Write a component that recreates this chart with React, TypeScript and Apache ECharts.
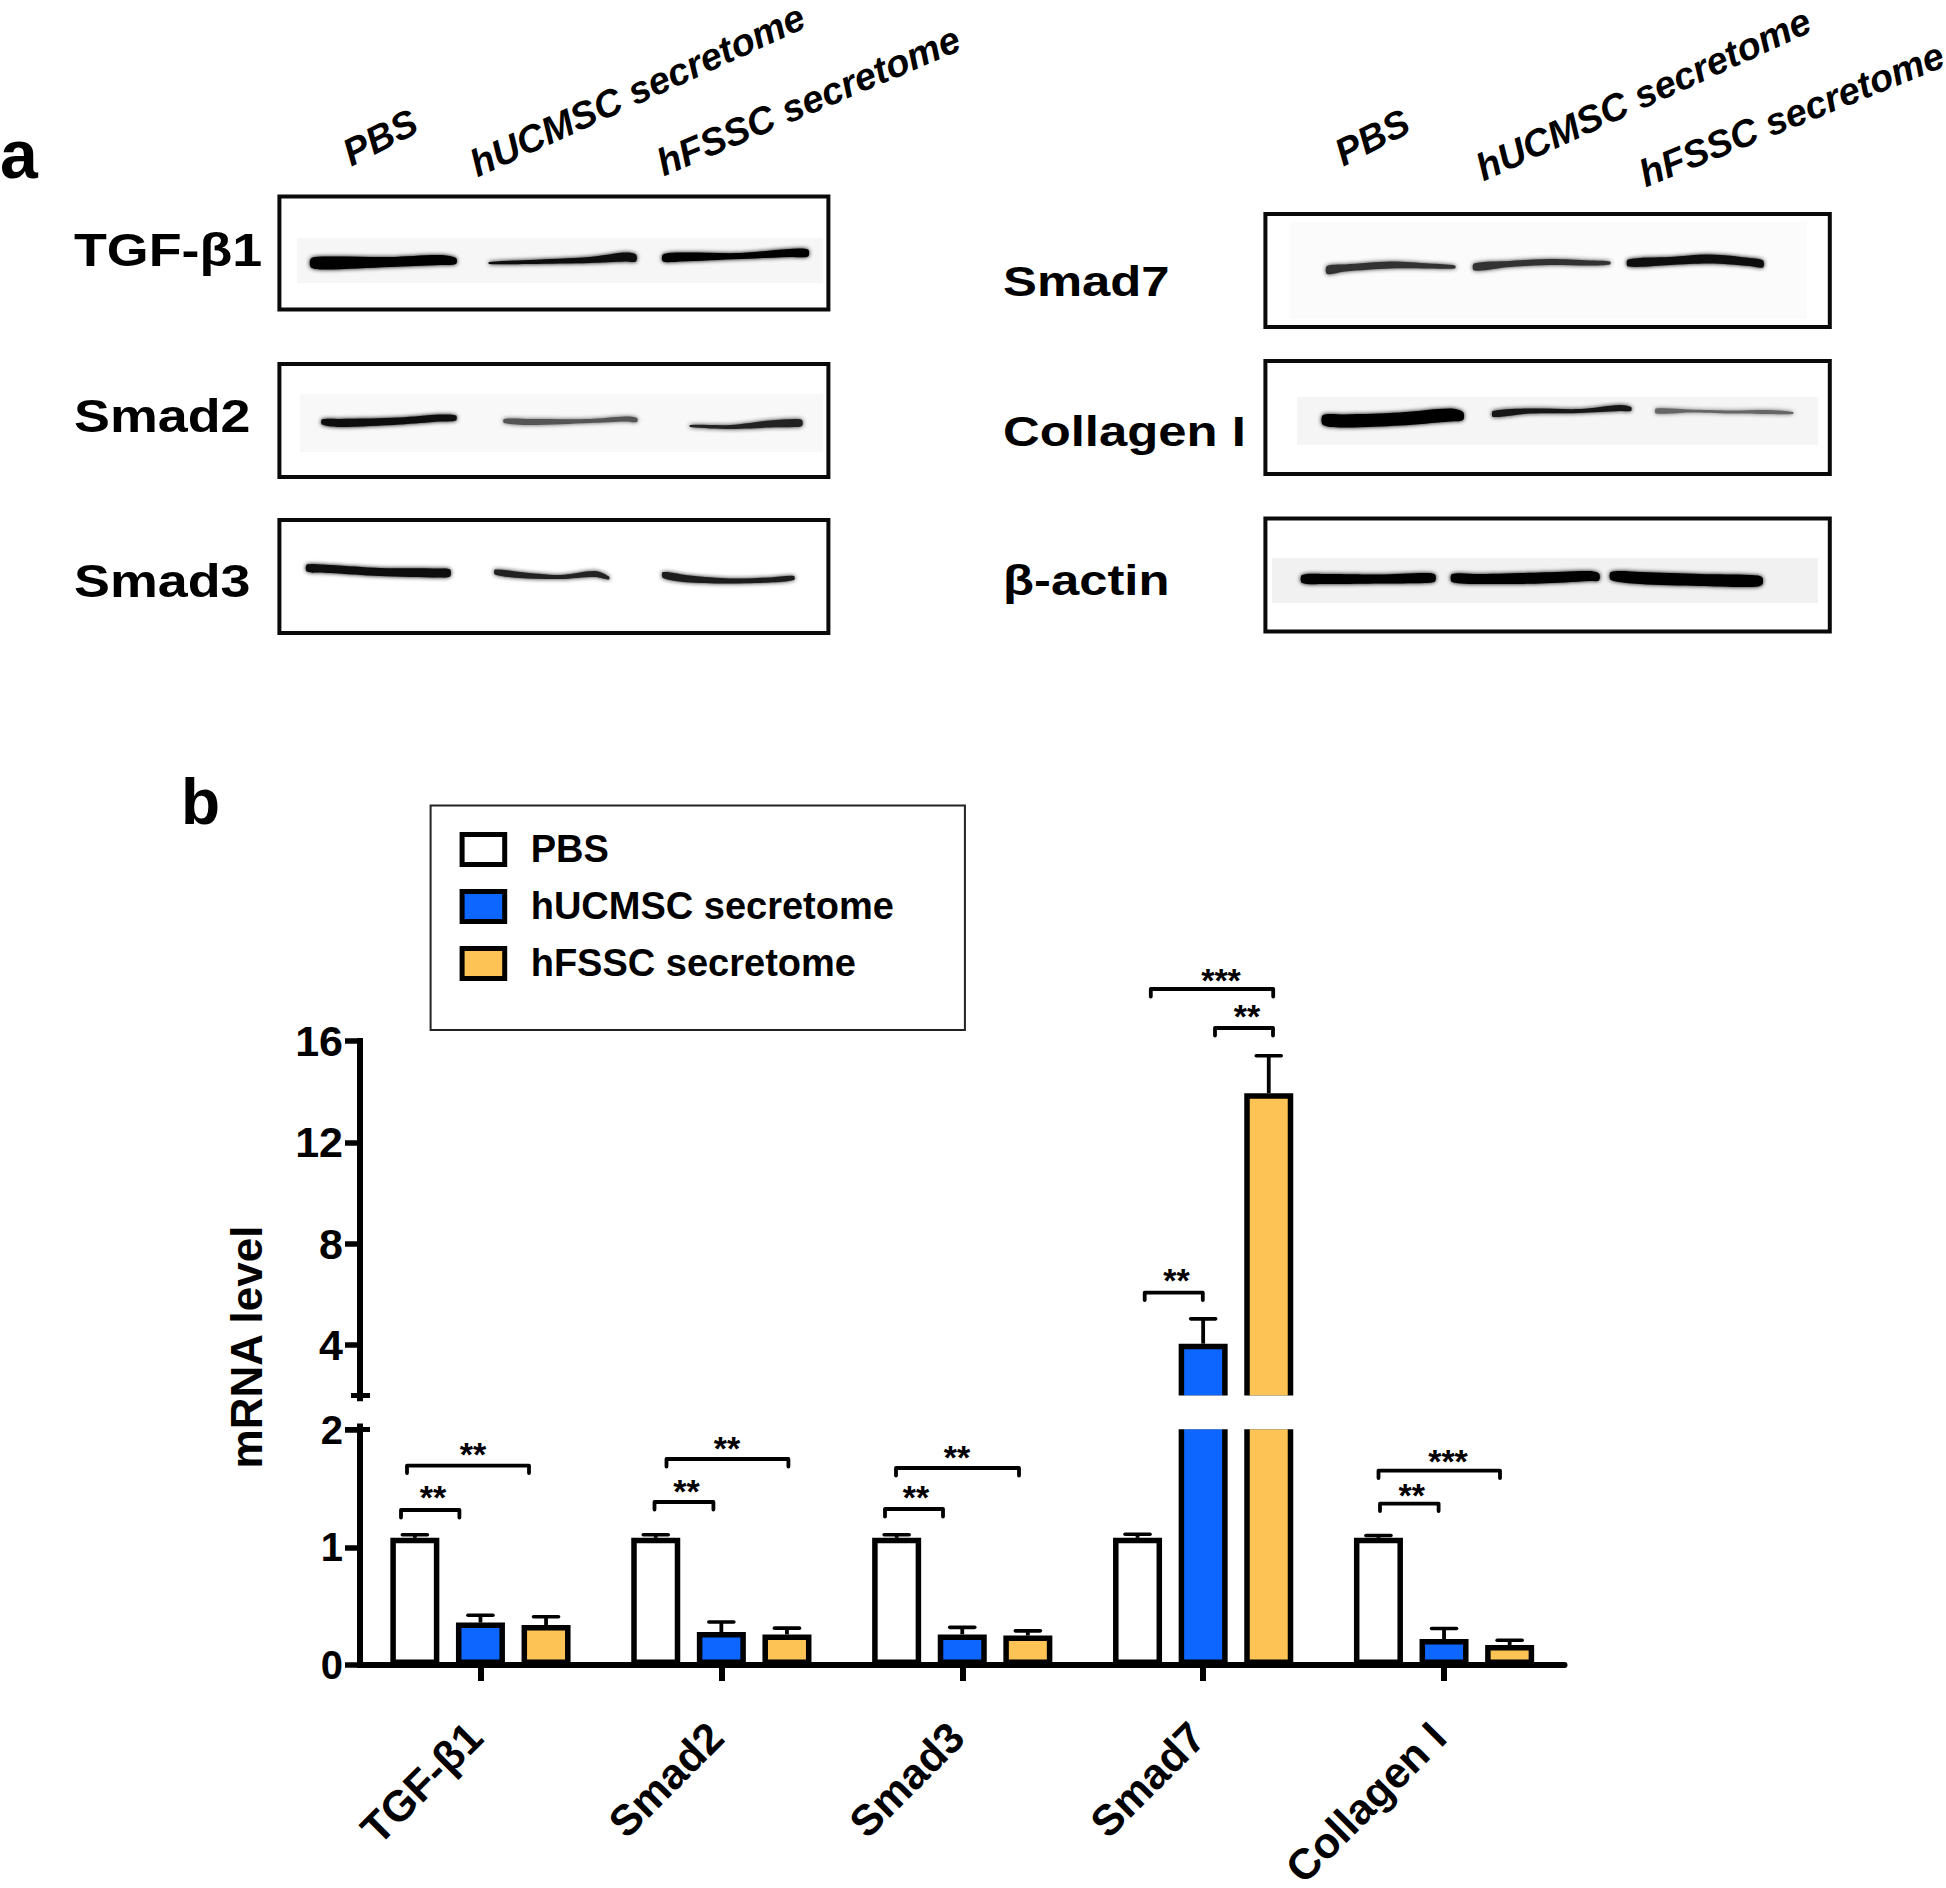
import React, { useEffect, useRef } from "react";
import * as echarts from "echarts";

const categories = ["TGF-β1", "Smad2", "Smad3", "Smad7", "Collagen I"];
const seriesNames = ["PBS", "hUCMSC secretome", "hFSSC secretome"];
const pbsValues = [1.08, 1.08, 1.08, 1.08, 1.08];
const hucmscValues = [0.36, 0.28, 0.26, 4.05, 0.22];
const hfsscValues = [0.34, 0.26, 0.25, 13.94, 0.17];
const pbsCaps = [1.106, 1.106, 1.106, 1.11, 1.1];
const hucmscCaps = [0.423, 0.365, 0.32, 5.03, 0.31];
const hfsscCaps = [0.41, 0.313, 0.29, 15.42, 0.21];
const upperTicks = [4, 8, 12, 16];
const lowerTicks = [0, 1, 2];
const allValues = [pbsValues, hucmscValues, hfsscValues];
const allCaps = [pbsCaps, hucmscCaps, hfsscCaps];
const fills = ["#ffffff", "#0d66ff", "#fdc354"];

const FONT = "Liberation Sans";
const BAR_W = 49;
const SLOT = 65.6;

// Significance brackets: x1, x2, y, stars, star x, star y
const brackets: [number, number, number, string, number, number][] = [
  [407, 529, 1465.6, "**", 473, 1449],
  [401, 459.4, 1510, "**", 433, 1492],
  [666.5, 788.4, 1459, "**", 727, 1443],
  [654.5, 713.4, 1502, "**", 686.6, 1486],
  [896, 1019, 1468, "**", 957, 1452],
  [885, 943, 1509, "**", 916, 1492],
  [1150.8, 1273.2, 989, "***", 1221, 975],
  [1215, 1273, 1028, "**", 1247, 1011],
  [1144.7, 1202.8, 1292.6, "**", 1176.4, 1275],
  [1378.5, 1500, 1470.6, "***", 1448, 1456],
  [1380, 1438.6, 1503.6, "**", 1411.8, 1489.7],
];

// Western blot panels (outer edge of frame)
const blotBoxes = [
  [279.4, 196.5, 549, 113],
  [279.4, 364, 549, 113],
  [279.4, 520, 549, 113],
  [1265.4, 214, 564.4, 113],
  [1265.4, 361, 564.4, 113],
  [1265.4, 518.5, 564.4, 113],
];
const blotPatches: [number, number, number, number, string][] = [
  [297, 238, 526, 45, "#f6f6f6"],
  [300, 394, 523, 58, "#f8f8f8"],
  [1290, 222, 517, 97, "#fbfbfb"],
  [1297, 397, 521, 48, "#f5f5f5"],
  [1272, 558, 546, 45, "#f1f1f1"],
];
// Bands: colour, then [x, centre y, thickness] along the band
const bands: [string, [number, number, number][]][] = [
  ["#050505", [[311, 263, 9], [325, 263, 13], [390, 262, 10], [440, 260, 10], [456, 261, 6]]],
  ["#101010", [[489, 263, 2], [530, 262, 4], [590, 260, 6], [625, 257, 9], [636, 258, 7]]],
  ["#050505", [[663, 258, 7], [680, 257, 9], [740, 256, 6], [790, 253, 8], [808, 253, 7]]],
  ["#101010", [[322, 422, 5], [340, 423, 8], [400, 421, 7], [440, 418, 7], [456, 418, 5]]],
  ["#555555", [[504, 421, 4], [530, 422, 6], [590, 421, 4], [625, 419, 5], [637, 420, 4]]],
  ["#222222", [[690, 426, 2], [730, 427, 4], [770, 424, 7], [795, 423, 8], [802, 423, 6]]],
  ["#080808", [[307, 568, 7], [330, 569, 8], [380, 572, 8], [440, 573, 9], [450, 573, 7]]],
  ["#222222", [[495, 572, 5], [520, 575, 6], [560, 577, 4], [595, 574, 6], [609, 578, 3]]],
  ["#1c1c1c", [[663, 575, 6], [690, 579, 7], [730, 581, 5], [770, 580, 5], [794, 578, 4]]],
  ["#333333", [[1327, 270, 8], [1345, 268, 7], [1390, 265, 7], [1430, 266, 5], [1455, 267, 3]]],
  ["#333333", [[1474, 267, 7], [1510, 264, 6], [1550, 262, 6], [1590, 263, 5], [1610, 263, 3]]],
  ["#111111", [[1628, 263, 7], [1670, 261, 8], [1710, 259, 9], [1750, 262, 8], [1763, 264, 7]]],
  ["#020202", [[1323, 420, 10], [1345, 421, 13], [1400, 419, 13], [1450, 415, 13], [1463, 416, 8]]],
  ["#181818", [[1493, 414, 6], [1530, 411, 5], [1580, 411, 4], [1620, 408, 6], [1631, 409, 4]]],
  ["#666666", [[1656, 411, 5], [1690, 411, 3], [1730, 412, 3], [1770, 412, 4], [1793, 413, 2]]],
  ["#020202", [[1302, 579, 8], [1325, 579, 10], [1380, 579, 9], [1425, 578, 10], [1435, 578, 7]]],
  ["#020202", [[1452, 578, 8], [1480, 579, 10], [1540, 578, 11], [1590, 576, 10], [1599, 577, 7]]],
  ["#020202", [[1611, 576, 8], [1640, 578, 12], [1700, 580, 12], [1750, 581, 12], [1762, 581, 8]]],
];

const txt = (text: string, x: number, y: number, fontSize: number, extra: any = {}, styleExtra: any = {}) => ({
  type: "text",
  x,
  y,
  silent: true,
  ...extra,
  style: {
    text,
    fontSize,
    fontWeight: "bold",
    fontFamily: FONT,
    fill: "#000",
    align: "left",
    verticalAlign: "middle",
    ...styleExtra,
  },
});

const deg = (d: number) => (d * Math.PI) / 180;

function buildGraphic() {
  const els: any[] = [];
  // Panel letters
  els.push(txt("a", 0, 154, 68));
  els.push(txt("b", 181, 802, 64));
  // Blot frames, patches, bands
  blotBoxes.forEach(([x, y, w, h]) =>
    els.push({
      type: "rect",
      shape: { x, y, width: w, height: h },
      style: { fill: "#fff", stroke: "#0a0a0a", lineWidth: 4 },
    })
  );
  blotPatches.forEach(([x, y, w, h, c]) =>
    els.push({ type: "rect", shape: { x, y, width: w, height: h }, style: { fill: c } })
  );
  bands.forEach(([c, pts]) => {
    const top = pts.map(([x, y, t]) => [x, y - t / 2]);
    const bottom = pts.map(([x, y, t]) => [x, y + t / 2]).reverse();
    els.push({
      type: "polygon",
      shape: { points: [...top, ...bottom], smooth: 0.3 },
      style: { fill: c, shadowBlur: 4, shadowColor: c },
    });
  });
  // Blot labels
  [
    ["TGF-β1", 74, 250],
    ["Smad2", 74, 416],
    ["Smad3", 74, 581],
  ].forEach(([t, x, y]) => els.push(txt(t as string, x as number, y as number, 46, { scaleX: 1.17 })));
  [
    ["Smad7", 1003, 282],
    ["Collagen I", 1003, 432],
    ["β-actin", 1003, 581],
  ].forEach(([t, x, y]) => els.push(txt(t as string, x as number, y as number, 42, { scaleX: 1.21 })));
  // Lane headers
  [
    ["PBS", 354, 172, 27],
    ["hUCMSC secretome", 480, 183, 24.5],
    ["hFSSC secretome", 666, 182, 23],
    ["PBS", 1346, 172, 27],
    ["hUCMSC secretome", 1486, 187, 24.5],
    ["hFSSC secretome", 1648, 193, 22],
  ].forEach(([t, x, y, r]) =>
    els.push(
      txt(t as string, x as number, y as number, 38, { rotation: deg(r as number) }, {
        verticalAlign: "bottom",
        fontStyle: "italic",
      })
    )
  );
  // y axis title
  els.push(txt("mRNA level", 246, 1347, 44, { rotation: deg(90) }, { align: "center" }));
  // Axis break caps
  els.push({
    type: "line",
    shape: { x1: 351, y1: 1395.5, x2: 370, y2: 1395.5 },
    style: { stroke: "#000", lineWidth: 5 },
    z: 20,
  });
  els.push({
    type: "line",
    shape: { x1: 345, y1: 1429.5, x2: 370, y2: 1429.5 },
    style: { stroke: "#000", lineWidth: 5 },
    z: 20,
  });
  // White break through the two tall bars
  els.push({
    type: "rect",
    shape: { x: 1170, y: 1395.5, width: 130, height: 33.8 },
    style: { fill: "#fff" },
    z: 50,
  });
  // Significance brackets
  brackets.forEach(([x1, x2, y, s, sx, sy]) => {
    els.push({
      type: "polyline",
      shape: { points: [[x1, y + 7.5], [x1, y], [x2, y], [x2, y + 7.5]] },
      style: { stroke: "#000", lineWidth: 3.8, fill: "none", lineCap: "round", lineJoin: "round" },
      z: 60,
    });
    els.push(txt(s, sx, sy + 5, 34, { z: 60 }, { align: "center" }));
  });
  return els;
}

function errorRender(params: any, api: any) {
  const slot = api.value(3) as number;
  const base = api.coord([api.value(0), api.value(1)]);
  const cap = api.coord([api.value(0), api.value(2)]);
  const x = base[0] + slot * SLOT;
  return {
    type: "group",
    children: [
      {
        type: "line",
        shape: { x1: x, y1: base[1], x2: x, y2: cap[1] },
        style: { stroke: "#000", lineWidth: 3.8 },
      },
      {
        type: "line",
        shape: { x1: x - 12.5, y1: cap[1], x2: x + 12.5, y2: cap[1] },
        style: { stroke: "#000", lineWidth: 3.6, lineCap: "round" },
      },
    ],
  };
}

function errorData(upper: boolean) {
  const out: number[][] = [];
  allValues.forEach((vals, s) =>
    vals.forEach((v, i) => {
      if (upper === v >= 2) out.push([i, v, allCaps[s][i], s - 1]);
    })
  );
  return out;
}

function buildOption() {
  const barSeries = (s: number, grid: number, data: (number | null)[]) => ({
    name: seriesNames[s],
    type: "bar",
    xAxisIndex: grid,
    yAxisIndex: grid,
    data,
    barWidth: BAR_W,
    barGap: ((SLOT - BAR_W) / BAR_W) * 100 + "%",
    z: 3,
    itemStyle: { color: fills[s], borderColor: "#000", borderWidth: 5.5 },
    emphasis: { disabled: true },
  });
  const errSeries = (grid: number, upper: boolean) => ({
    type: "custom",
    xAxisIndex: grid,
    yAxisIndex: grid,
    data: errorData(upper),
    encode: { x: 0, y: [1, 2] },
    renderItem: errorRender,
    clip: false,
    silent: true,
    z: 1,
  });
  const axisLine = { show: true, lineStyle: { color: "#000", width: 6, cap: "square" } };
  const labelBase = { color: "#000", fontWeight: "bold", fontFamily: FONT };
  return {
    animation: false,
    backgroundColor: "#fff",
    tooltip: { show: false },
    legend: {
      show: true,
      data: seriesNames,
      orient: "vertical",
      left: 430.6,
      top: 805.4,
      selectedMode: false,
      icon: "rect",
      itemWidth: 42.6,
      itemHeight: 30,
      itemGap: 19,
      padding: [25, 71, 47.6, 29],
      borderColor: "#222",
      borderWidth: 2,
      backgroundColor: "#fff",
      itemStyle: { borderColor: "#000", borderWidth: 5 },
      textStyle: {
        color: "#000",
        fontSize: 38,
        fontWeight: "bold",
        fontFamily: FONT,
        padding: [0, 0, 0, 21],
      },
    },
    grid: [
      { left: 360, top: 1041, width: 1204.5, height: 357.15, outerBoundsMode: "none" },
      { left: 360, top: 1426.6, width: 1204.5, height: 238.4, outerBoundsMode: "none" },
    ],
    xAxis: [
      { type: "category", gridIndex: 0, data: categories, show: false },
      {
        type: "category",
        gridIndex: 1,
        data: categories,
        axisLine: { show: true, lineStyle: { color: "#000", width: 6 } },
        axisTick: { show: true, alignWithLabel: true, length: 16, lineStyle: { color: "#000", width: 6 } },
        axisLabel: { ...labelBase, fontSize: 43, rotate: 45, margin: 59, interval: 0, padding: [0, 8, 0, 0] },
      },
    ],
    yAxis: [
      {
        type: "value",
        gridIndex: 0,
        min: 1.9,
        max: 16,
        splitLine: { show: false },
        axisLine,
        axisTick: { show: true, length: 15, lineStyle: { color: "#000", width: 5.5 }, customValues: upperTicks },
        axisLabel: { ...labelBase, fontSize: 43, margin: 17, customValues: upperTicks },
      },
      {
        type: "value",
        gridIndex: 1,
        min: 0,
        max: 2.025,
        splitLine: { show: false },
        axisLine,
        axisTick: { show: true, length: 15, lineStyle: { color: "#000", width: 5.5 }, customValues: lowerTicks },
        axisLabel: { ...labelBase, fontSize: 40, margin: 17, customValues: lowerTicks },
      },
    ],
    series: [
      errSeries(0, true),
      errSeries(1, false),
      ...allValues.map((v, s) => barSeries(s, 0, v.map((d) => (d >= 2 ? d : null)))),
      ...allValues.map((v, s) => barSeries(s, 1, v)),
    ],
    graphic: { elements: buildGraphic() },
  };
}

export default function App() {
  const ref = useRef<HTMLDivElement>(null);
  useEffect(() => {
    if (!ref.current) return;
    const chart = echarts.init(ref.current, undefined, { renderer: "svg" });
    chart.setOption(buildOption() as any);
    return () => chart.dispose();
  }, []);
  return (
    <div
      ref={ref}
      style={{ position: "absolute", left: 0, top: 0, width: 1946, height: 1888, background: "#fff" }}
    />
  );
}
